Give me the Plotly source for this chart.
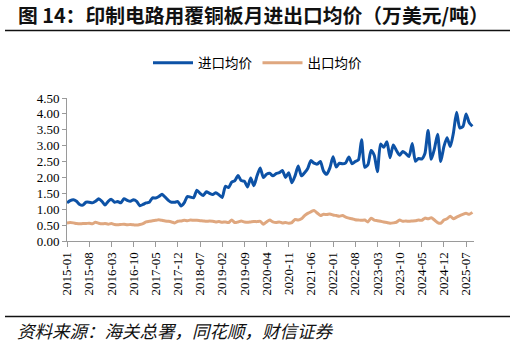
import plotly.graph_objects as go

# ---- data ----
tick_labels = ["2015-01", "2015-08", "2016-03", "2016-10", "2017-05", "2017-12",
               "2018-07", "2019-02", "2019-09", "2020-04", "2020-11", "2021-06",
               "2022-01", "2022-08", "2023-03", "2023-10", "2024-05", "2024-12",
               "2025-07"]

def month_labels(start_year, start_month, n):
    out = []
    y, m = start_year, start_month
    for _ in range(n):
        out.append(f"{y}-{m:02d}")
        m += 1
        if m > 12:
            m = 1
            y += 1
    return out

import_price = [
    1.20, 1.27, 1.30, 1.25, 1.15, 1.13, 1.22, 1.22, 1.20, 1.25,
    1.33, 1.25, 1.13, 1.25, 1.31, 1.22, 1.24, 1.20, 1.33, 1.28,
    1.25, 1.30, 1.25, 1.11, 1.15, 1.20, 1.22, 1.36, 1.35, 1.40,
    1.47, 1.38, 1.28, 1.22, 1.22, 1.24, 1.10, 1.20, 1.40, 1.38,
    1.36, 1.60, 1.50, 1.43, 1.55, 1.50, 1.46, 1.52, 1.45, 1.37,
    1.72, 1.68, 1.85, 1.90, 2.06, 1.90, 1.88, 1.70, 1.98, 1.74,
    2.05, 2.30, 2.00, 2.10, 2.13, 2.05, 2.12, 2.15, 2.22, 2.00,
    2.15, 1.83, 2.05, 2.36, 2.05, 2.15, 2.28, 2.53, 2.45, 2.42,
    2.50, 2.20, 2.10, 2.30, 2.65, 2.33, 2.45, 2.43, 2.46, 2.64,
    2.43, 2.50, 2.55, 3.19, 2.32, 2.40, 2.85, 2.70, 2.18, 3.05,
    2.95, 3.12, 2.62, 3.02, 2.85, 2.70, 2.82, 2.75, 2.66, 3.07,
    2.51, 2.60, 2.58, 2.75, 3.48, 2.57, 2.90, 3.36, 2.50, 2.97,
    3.25, 2.97, 3.40, 4.05, 3.56, 3.60, 4.00, 3.72, 3.61]

export_price = [
    0.57, 0.58, 0.57, 0.55, 0.54, 0.55, 0.55, 0.56, 0.54, 0.59,
    0.56, 0.54, 0.55, 0.53, 0.55, 0.52, 0.51, 0.52, 0.53, 0.51,
    0.52, 0.51, 0.50, 0.52, 0.55, 0.60, 0.62, 0.64, 0.65, 0.67,
    0.65, 0.63, 0.62, 0.60, 0.57, 0.62, 0.63, 0.65, 0.64, 0.66,
    0.65, 0.65, 0.64, 0.63, 0.62, 0.63, 0.62, 0.60, 0.61, 0.59,
    0.60, 0.58, 0.66, 0.58, 0.60, 0.63, 0.60, 0.59, 0.60, 0.61,
    0.61, 0.62, 0.53, 0.60, 0.66, 0.60, 0.58, 0.60, 0.57, 0.58,
    0.56, 0.58, 0.68, 0.66, 0.70, 0.80, 0.87, 0.92, 0.96, 0.88,
    0.80, 0.84, 0.83, 0.85, 0.82, 0.80, 0.78, 0.80, 0.75, 0.72,
    0.70, 0.67, 0.66, 0.65, 0.66, 0.60, 0.72, 0.66, 0.64, 0.62,
    0.60, 0.58, 0.56, 0.57, 0.59, 0.66, 0.62, 0.63, 0.62, 0.63,
    0.64, 0.66, 0.65, 0.72, 0.70, 0.73, 0.66, 0.58, 0.56, 0.66,
    0.70, 0.78, 0.70, 0.75, 0.80, 0.84, 0.87, 0.84, 0.90]

months = month_labels(2015, 1, len(import_price))

title_text = "<b>图 14：印制电路用覆铜板月进出口均价（万美元/吨）</b>"
source_text = "<i>资料来源：海关总署，同花顺，财信证券</i>"

# ---- layout geometry (pixels) ----
W, H = 515, 346
L, R, T, B = 67, 474, 98.3, 240.7

def px(x):
    return (x - L) / (R - L)

def py(y):
    return (B - y) / (B - T)

fig = go.Figure()
fig.add_trace(go.Scatter(x=months, y=import_price, name="进口均价", mode="lines",
                         line=dict(color="#0d52a6", width=3, shape="spline", smoothing=0.6)))
fig.add_trace(go.Scatter(x=months, y=export_price, name="出口均价", mode="lines",
                         line=dict(color="#dfa77f", width=3, shape="spline", smoothing=0.6)))

axis_font = dict(family="Liberation Serif, Times New Roman, serif", size=13, color="#000")

fig.update_layout(
    width=W, height=H,
    margin=dict(l=L, r=W - R, t=T, b=H - B),
    paper_bgcolor="white", plot_bgcolor="white",
    showlegend=True,
    legend=dict(orientation="h", xref="container", yref="container",
                x=0.5, xanchor="center", y=1 - 63 / H, yanchor="middle",
                font=dict(family="Noto Sans CJK SC", size=13.5, color="#000"),
                itemwidth=40, tracegroupgap=0),
    xaxis=dict(type="category", categoryorder="array", categoryarray=months,
               range=[0, len(months) - 0.5],
               tickmode="array", tickvals=tick_labels, ticktext=tick_labels,
               tickangle=-90, tickfont=axis_font,
               showline=True, linecolor="#9a9a9a", linewidth=1,
               ticks="outside", ticklen=5, tickcolor="#9a9a9a",
               showgrid=False, zeroline=False),
    yaxis=dict(range=[0, 4.5], dtick=0.5, tick0=0, tickformat=".2f",
               tickfont=axis_font,
               showline=True, linecolor="#9a9a9a", linewidth=1,
               ticks="outside", ticklen=4, tickcolor="#9a9a9a",
               showgrid=False, zeroline=False),
    annotations=[
        dict(text=title_text, xref="paper", yref="paper", x=px(16), y=py(15),
             xanchor="left", yanchor="middle", showarrow=False,
             font=dict(family="Noto Sans CJK SC", size=19.8, color="#111")),
        dict(text=source_text, xref="paper", yref="paper", x=px(15), y=py(330),
             xanchor="left", yanchor="middle", showarrow=False,
             font=dict(family="Noto Sans CJK SC", size=17.5, color="#111")),
    ],
    shapes=[
        dict(type="line", xref="paper", yref="paper", x0=px(5), x1=px(510),
             y0=py(31), y1=py(31), line=dict(color="#111", width=1.5)),
        dict(type="line", xref="paper", yref="paper", x0=px(5), x1=px(510),
             y0=py(316), y1=py(316), line=dict(color="#111", width=1.5)),
    ],
)

fig.write_html("out.html")
